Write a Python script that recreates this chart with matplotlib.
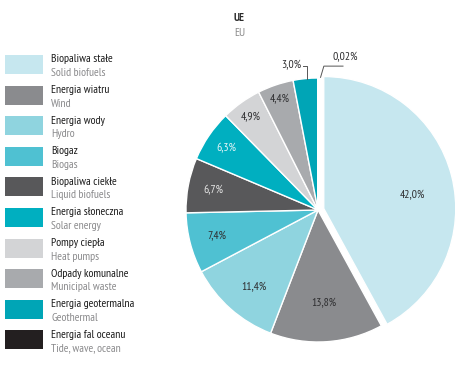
import numpy as np
import matplotlib
matplotlib.use("Agg")
import matplotlib.pyplot as plt
from matplotlib.patches import Rectangle

plt.rcParams['font.family'] = ['PT Sans Narrow', 'Roboto Condensed', 'DejaVu Sans']

labels_pl = ["Biopaliwa stałe", "Energia wiatru", "Energia wody", "Biogaz", "Biopaliwa ciekłe",
             "Energia słoneczna", "Pompy ciepła", "Odpady komunalne", "Energia geotermalna",
             "Energia fal oceanu"]
labels_en = ["Solid biofuels", "Wind", "Hydro", "Biogas", "Liquid biofuels", "Solar energy",
             "Heat pumps", "Municipal waste", "Geothermal", "Tide, wave, ocean"]
values = [42.0, 13.8, 11.4, 7.4, 6.7, 6.3, 4.9, 4.4, 3.0, 0.02]
value_text = ["42,0%", "13,8%", "11,4%", "7,4%", "6,7%", "6,3%", "4,9%", "4,4%", "3,0%", "0,02%"]
colors = ["#c6e7ef", "#8a8b8e", "#8fd4df", "#4fc1d2", "#58585a", "#00afc0",
          "#d3d4d6", "#a8aaad", "#00a5b6", "#231f20"]
label_colors = ["#2e2e30", "#2e2e30", "#2e2e30", "#2e2e30", "#e8e8e8", "#e8f6f8",
                "#2e2e30", "#2e2e30", "#2e2e30", "#2e2e30"]

W, H = 474, 390
fig = plt.figure(figsize=(W / 100, H / 100), dpi=100)

def fx(x):
    return x / W

def fy(y):
    return 1 - y / H

FS = 8.4

# pie axes
cx, cy, R = 318, 210, 132
m = 1.25
ax = fig.add_axes([fx(cx - R * m), fy(cy + R * m), 2 * R * m / W, 2 * R * m / H])
ax.set_xlim(-m, m)
ax.set_ylim(-m, m)
ax.axis('off')

explode = [0.045] + [0] * (len(values) - 1)
wedges, _ = ax.pie(values, colors=colors, startangle=90, counterclock=False,
                   explode=explode, radius=1,
                   wedgeprops=dict(edgecolor='white', linewidth=1.0))

tot = sum(values)
cum = 0
inside_r = [0.68, 0.71, 0.76, 0.79, 0.81, 0.84, 0.87, 0.89]
inside_da = [-6.0, 0, 2.0, 0, 0, 0, 0, 0]
for i, v in enumerate(values):
    a0 = 90 - 360 * cum / tot
    a1 = 90 - 360 * (cum + v) / tot
    cum += v
    mid = np.deg2rad((a0 + a1) / 2)
    if i < 8:
        r = inside_r[i]
        ox, oy = (explode[i] * np.cos(mid), explode[i] * np.sin(mid))
        ang = mid + np.deg2rad(inside_da[i])
        ax.text(r * np.cos(ang) + ox, r * np.sin(ang) + oy, value_text[i], ha='center',
                va='center', fontsize=FS, color=label_colors[i])
    elif i == 8:
        ex, ey = np.cos(mid), np.sin(mid)
        ax.plot([ex + 0.015, ex + 0.015, ex - 0.015], [ey, 1.09, 1.09], color='#555555', lw=0.7,
                clip_on=False)
        ax.text(ex - 0.03, 1.095, value_text[i], ha='right', va='center', fontsize=FS,
                color='#2e2e30')
    else:
        ex, ey = np.cos(mid), np.sin(mid)
        ax.plot([ex + 0.02, ex + 0.045, ex + 0.19], [ey + 0.005, 1.09, 1.09], color='#555555',
                lw=0.7, clip_on=False)
        ax.text(ex + 0.21, 1.16, value_text[i], ha='center', va='center', fontsize=FS,
                color='#2e2e30')

# title
fig.text(fx(234), fy(18), "UE", ha='left', va='center', fontsize=FS, fontweight='bold',
         color='#2b2b2b')
fig.text(fx(234), fy(33), "EU", ha='left', va='center', fontsize=FS, color='#8a8a8a')

# legend
for i in range(len(values)):
    yp = 55 + i * 30.6
    fig.patches.append(Rectangle((fx(5), fy(yp + 19)), 38 / W, 19 / H, transform=fig.transFigure,
                                 facecolor=colors[i], edgecolor='none'))
    fig.text(fx(51), fy(yp + 4.5), labels_pl[i], ha='left', va='center', fontsize=FS,
             color='#1a1a1a')
    fig.text(fx(51), fy(yp + 18), labels_en[i], ha='left', va='center', fontsize=FS,
             color='#8a8a8c')

fig.savefig("out.png", dpi=100, facecolor='white')
